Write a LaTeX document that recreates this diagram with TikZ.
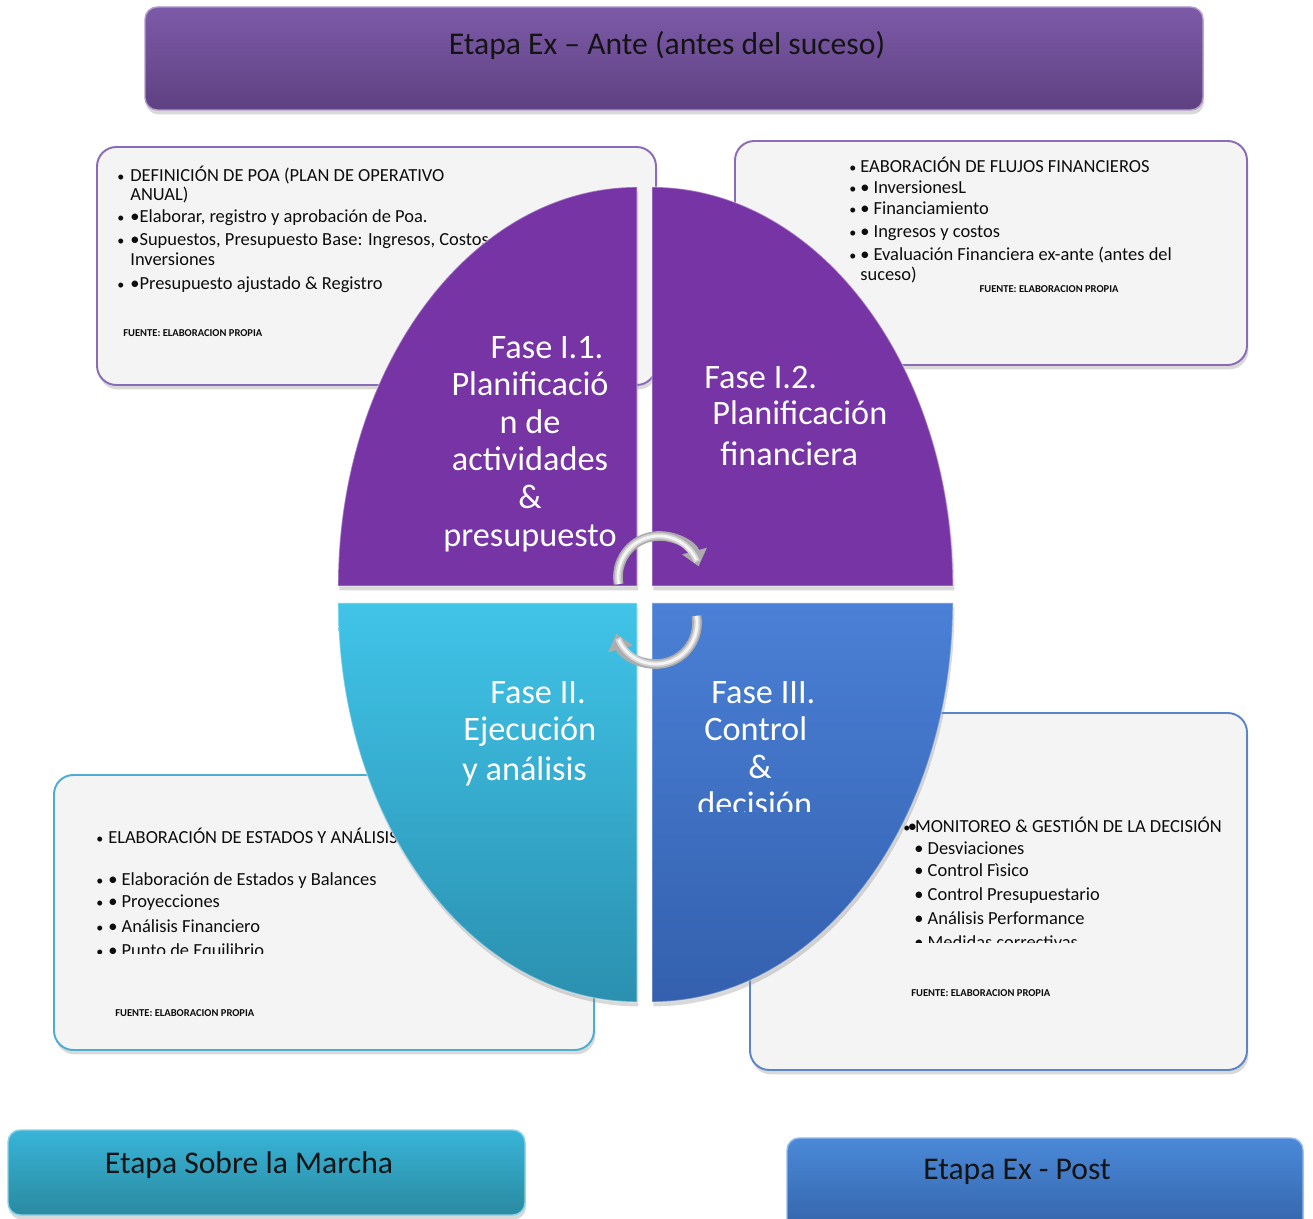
\documentclass[tikz,border=0pt]{standalone}
\usepackage{fontspec}
\setmainfont{Carlito}
\usetikzlibrary{shadows,arrows.meta}
\definecolor{purpQ}{HTML}{7634A4}
\definecolor{cyanTop}{HTML}{40C4E8}
\definecolor{cyanBot}{HTML}{2B90B0}
\definecolor{blueTop}{HTML}{4A80D6}
\definecolor{blueBot}{HTML}{3460AE}
\definecolor{banPTop}{HTML}{7D5AA8}
\definecolor{banPBot}{HTML}{5E4181}
\definecolor{banCTop}{HTML}{38B4D8}
\definecolor{banCBot}{HTML}{2A8AA0}
\definecolor{banBTop}{HTML}{4B89D8}
\definecolor{banBBot}{HTML}{3262A8}
\definecolor{boxfill}{HTML}{F4F4F4}
\definecolor{brdP}{HTML}{8A6BB8}
\definecolor{brdC}{HTML}{4BAED0}
\definecolor{brdB}{HTML}{5A86C8}
\newcommand{\obul}[1]{\makebox[#1][l]{\fontsize{8pt}{8pt}\selectfont •}}
\begin{document}
\begin{tikzpicture}[x=0.02cm,y=0.02cm,
  body/.style={font=\fontsize{10.5pt}{12pt}\selectfont, anchor=base west, inner sep=0pt, text=black!95},
  src/.style={font=\bfseries\fontsize{6pt}{7pt}\selectfont, anchor=base west, inner sep=0pt, text=black!95},
  phase/.style={font=\fontsize{19.5pt}{22pt}\selectfont, text=white, inner sep=0pt},
  stage/.style={font=\fontsize{18pt}{20pt}\selectfont, text=black!92, inner sep=0pt},
  infobox/.style={fill=boxfill, line width=1.1pt, rounded corners=11pt,
     drop shadow={opacity=0.3, shadow xshift=0.8pt, shadow yshift=-2.5pt}},
  quad/.style={draw=white, draw opacity=0.35, line width=0.8pt,
     drop shadow={opacity=0.3, shadow xshift=0.8pt, shadow yshift=-2.5pt}},
  banner/.style={rounded corners=7pt, line width=0.8pt,
     drop shadow={opacity=0.3, shadow xshift=0.6pt, shadow yshift=-2.5pt}},
  silverout/.style={line width=5.5pt, color=gray!65, -{Triangle[length=9pt, width=14pt]}},
  silvermid/.style={line width=3.6pt, color=gray!35},
  silverin/.style={line width=1.6pt, color=white!92!gray}
]
\useasboundingbox (0,0) rectangle (1313,-1219);

% ---------- information boxes ----------
\path[infobox, draw=brdP] (97,-147) rectangle (656,-385);
\path[infobox, draw=brdP] (735,-141) rectangle (1247,-365);
\path[infobox, draw=brdC] (54,-775) rectangle (594,-1050);
\path[infobox, draw=brdB] (750,-713) rectangle (1247,-1070);

% top-left box text
\node[body] (tl1) at (117,-182) {\obul{7.4pt}DEFINICIÓN DE POA (PLAN DE OPERATIVO};
\node[body] (tl2) at (130,-201) {ANUAL)};
\node[body] (tl3) at (117,-223) {\obul{7.4pt}•Elaborar, registro y aprobación de Poa.};
\node[body] (tl4) at (117,-246) {\obul{7.4pt}•Supuestos, Presupuesto Base: Ingresos, Costos,};
\node[body] (tl5) at (130,-266) {Inversiones};
\node[body] (tl6) at (117,-290) {\obul{7.4pt}•Presupuesto ajustado \& Registro};
\node[src] (tl7) at (123,-337) {FUENTE: ELABORACION PROPIA};

% top-right box text
\node[body] (tr1) at (849,-173) {\obul{6.2pt}EABORACIÓN DE FLUJOS FINANCIEROS};
\node[body] (tr2) at (849,-194) {\obul{6.2pt}• InversionesL};
\node[body] (tr3) at (849,-215) {\obul{6.2pt}• Financiamiento};
\node[body] (tr4) at (849,-238) {\obul{6.2pt}• Ingresos y costos};
\node[body] (tr5) at (849,-261) {\obul{6.2pt}• Evaluación Financiera ex-ante (antes del};
\node[body] (tr6) at (860,-281) {suceso)};
\node[src, anchor=base] (tr7) at (1049,-293) {FUENTE: ELABORACION PROPIA};

% bottom-left box text
\node[body] (bl1) at (96,-844) {\obul{6.8pt}ELABORACIÓN DE ESTADOS Y ANÁLISIS};
\node[body] (bl2) at (96,-886) {\obul{6.8pt}• Elaboración de Estados y Balances};
\node[body] (bl3) at (96,-908) {\obul{6.8pt}• Proyecciones};
\node[body] (bl4) at (96,-932) {\obul{6.8pt}• Análisis Financiero};
\begin{scope}
  \clip (60,-900) rectangle (590,-954);
  \node[body] (bl5) at (96,-957) {\obul{6.8pt}• Punto de Equilibrio};
\end{scope}
\node[src] (bl6) at (115,-1016) {FUENTE: ELABORACION PROPIA};

% bottom-right box text
\node[body] (br1) at (903,-833) {\obul{2.6pt}•\kern-1.2pt MONITOREO \& GESTIÓN DE LA DECISIÓN};
\node[body] (br2) at (914,-855) {• Desviaciones};
\node[body] (br3) at (914,-877) {• Control Fìsico};
\node[body] (br4) at (914,-901) {• Control Presupuestario};
\node[body] (br5) at (914,-925) {• Análisis Performance};
\begin{scope}
  \clip (900,-920) rectangle (1240,-943);
  \node[body] (br6) at (914,-949) {• Medidas correctivas};
\end{scope}
\node[src] (br7) at (911,-996) {FUENTE: ELABORACION PROPIA};

% ---------- quadrants ----------
\path[quad, fill=purpQ] (637,-586) -- (338,-586)
  arc[start angle=180, end angle=90, x radius=299, y radius=399] -- cycle;
\path[quad, fill=purpQ] (652,-586) -- (652,-187)
  arc[start angle=90, end angle=0, x radius=301, y radius=399] -- cycle;
\path[quad, top color=cyanTop, bottom color=cyanBot] (637,-603) -- (637,-1002)
  arc[start angle=270, end angle=180, x radius=299, y radius=399] -- cycle;
\path[quad, top color=blueTop, bottom color=blueBot] (652,-603) -- (953,-603)
  arc[start angle=0, end angle=-90, x radius=301, y radius=399] -- cycle;

% quadrant texts
\node[phase, anchor=base] (p1a) at (547,-359) {Fase I.1.};
\node[phase, anchor=base] (p1b) at (530,-396) {Planificació};
\node[phase, anchor=base] (p1c) at (530,-434) {n de};
\node[phase, anchor=base] (p1d) at (530,-471) {actividades};
\node[phase, anchor=base] (p1e) at (530,-509) {\&};
\node[phase, anchor=base] (p1f) at (530,-547) {presupuesto};

\node[phase, anchor=base west] (p2a) at (704,-389) {Fase I.2.};
\node[phase, anchor=base west] (p2b) at (712,-425) {Planificación};
\node[phase, anchor=base west] (p2c) at (720,-466) {financiera};

\node[phase, anchor=base west] (p3a) at (490,-704) {Fase II.};
\node[phase, anchor=base west] (p3b) at (463,-741) {Ejecución};
\node[phase, anchor=base west] (p3c) at (462,-781) {y análisis};

\node[phase, anchor=base west] (p4a) at (711,-704) {Fase III.};
\node[phase, anchor=base west] (p4b) at (704,-741) {Control};
\node[phase, anchor=base west] (p4c) at (748,-779) {\&};
\begin{scope}
  \clip (660,-780) rectangle (900,-812);
  \node[phase, anchor=base west] (p4d) at (697,-816) {decisión};
\end{scope}

% ---------- cycle arrows ----------
\draw[silverout] (618.6,-584.1) arc[start angle=190, end angle=15, radius=41];
\draw[silvermid] (618.6,-584.1) arc[start angle=190, end angle=22, radius=41];
\draw[silverin] (618.6,-584.1) arc[start angle=190, end angle=24, radius=41];
\draw[silverout] (696.4,-615.9) arc[start angle=10, end angle=-165, radius=41];
\draw[silvermid] (696.4,-615.9) arc[start angle=10, end angle=-158, radius=41];
\draw[silverin] (696.4,-615.9) arc[start angle=10, end angle=-156, radius=41];

% ---------- stage banners ----------
\path[banner, top color=banPTop, bottom color=banPBot, draw=banPTop!60!white]
  (145,-7) rectangle (1203,-110);
\node[stage] (topt) at (667,-45) {Etapa Ex – Ante (antes del suceso)};

\path[banner, top color=banCTop, bottom color=banCBot, draw=banCTop!60!white]
  (8,-1130) rectangle (525,-1215);
\node[stage] (blt) at (249,-1165) {Etapa Sobre la Marcha};

\path[banner, top color=banBTop, bottom color=banBBot, draw=banBTop!60!white]
  (787,-1138) rectangle (1303,-1235);
\node[stage] (brt) at (1017,-1172) {Etapa Ex - Post};
\end{tikzpicture}
\end{document}
